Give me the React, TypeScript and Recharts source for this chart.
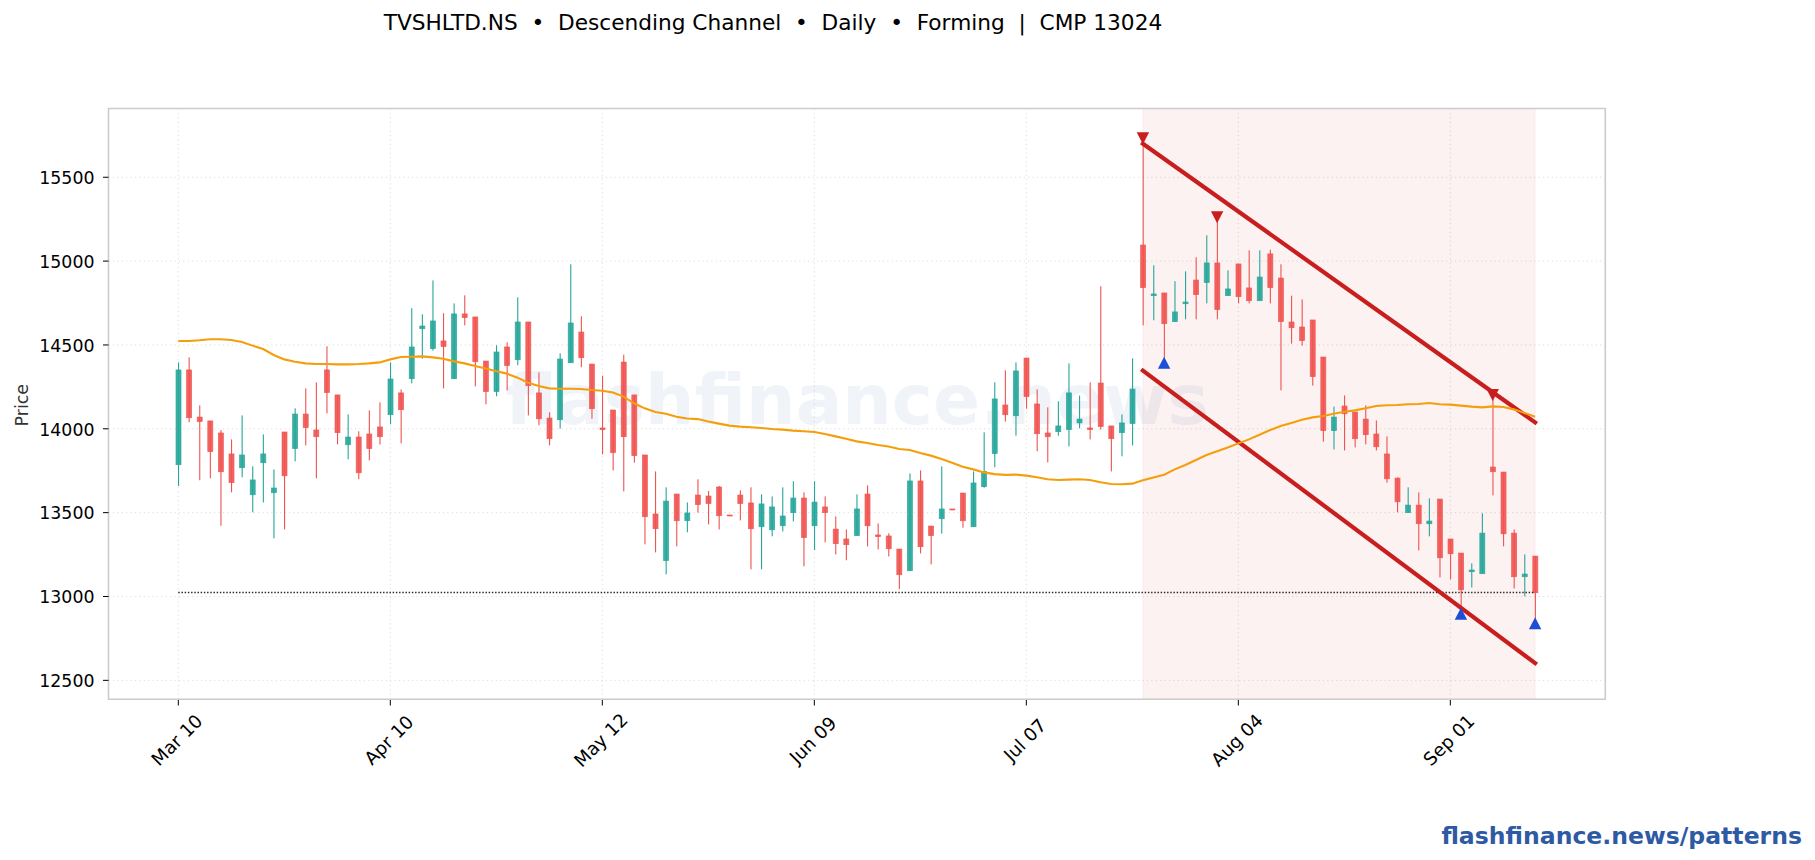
import React from "react";
import { ComposedChart, Bar, Line, XAxis, YAxis, CartesianGrid, ReferenceArea, ReferenceLine } from "recharts";

const opens = [13786,14351,14070,14047,13975,13850,13768,13607,13798,13619,13981,13882,14088,13993,14351,14202,13905,13951,13969,14011,14084,14214,14299,14597,14478,14524,14299,14685,14667,14404,14222,14488,14412,14637,14214,14064,14054,14394,14577,14386,14005,14112,14398,14202,13844,13492,13214,13611,13452,13605,13599,13653,13486,13605,13558,13416,13398,13422,13500,13587,13422,13534,13402,13343,13363,13611,13367,13361,13283,13154,13689,13420,13464,13522,13617,13416,13655,13852,14142,14078,14422,14148,13975,13983,13995,14035,14005,14273,14017,13977,14031,15096,14794,14810,14639,14746,14887,14872,14989,14794,14983,14840,14764,15043,14899,14637,14607,14649,14428,13989,14136,14100,14058,13969,13850,13706,13500,13545,13434,13581,13343,13259,13148,13136,13772,13742,13378,13118,13241];
const closes = [14351,14066,14043,13864,13744,13679,13844,13695,13850,13647,13720,14088,14007,13953,14216,13977,13951,13738,13882,13953,14297,14114,14488,14613,14643,14490,14685,14663,14400,14222,14458,14377,14637,14257,14060,13941,14416,14631,14424,14120,13995,13858,13953,13840,13476,13404,13569,13452,13498,13548,13554,13482,13482,13554,13404,13552,13534,13480,13587,13351,13563,13500,13315,13309,13522,13422,13357,13285,13130,13689,13297,13363,13522,13518,13452,13677,13746,14178,14084,14345,14192,13971,13953,14017,14214,14058,13995,14013,13941,14035,14237,14842,14804,14627,14697,14756,14800,14989,14711,14834,14788,14764,14905,14842,14639,14603,14526,14311,13989,14070,14090,13941,13965,13893,13702,13565,13545,13434,13450,13231,13255,13040,13158,13378,13744,13374,13118,13134,13022];
const highs = [14396,14426,14140,14047,13993,13937,14080,13776,13967,13758,13981,14122,14241,14277,14492,14202,14086,13985,14110,14158,14396,14235,14719,14683,14885,14689,14748,14796,14667,14404,14498,14516,14784,14637,14337,14098,14450,14981,14671,14386,14317,14112,14442,14202,13844,13746,13651,13611,13561,13699,13629,13659,13486,13633,13651,13609,13597,13651,13687,13621,13687,13597,13478,13400,13609,13663,13436,13377,13283,13734,13752,13420,13776,13522,13617,13746,13979,14277,14349,14396,14422,14235,14128,14164,14390,14198,14277,14850,14017,14086,14420,15732,14975,14810,14880,14939,15023,15154,15261,14945,14983,15064,15064,15068,14981,14794,14772,14649,14428,14132,14199,14100,14140,14050,13955,13710,13651,13621,13585,13581,13343,13259,13198,13496,14201,13742,13400,13251,13241];
const lows = [13659,14039,13693,13705,13422,13621,13711,13502,13561,13347,13400,13806,13901,13705,14092,13907,13818,13699,13812,13907,14027,13913,14271,14418,14466,14241,14299,14617,14253,14146,14194,14229,14379,14080,14021,13901,14001,14394,14367,14060,13848,13752,13627,13798,13311,13263,13132,13299,13383,13500,13430,13400,13482,13454,13162,13162,13359,13388,13448,13180,13277,13323,13251,13216,13363,13299,13281,13239,13043,13154,13257,13192,13375,13518,13410,13416,13649,13770,14043,13959,14120,13866,13800,13959,13895,14003,13937,13995,13746,13836,13901,14617,14647,14394,14639,14653,14653,14748,14653,14794,14748,14748,14764,14748,14229,14508,14496,14257,13923,13877,13871,13889,13907,13871,13679,13502,13500,13275,13359,13114,13102,12897,13054,13136,13603,13299,13048,13001,12840];
const movingAverage = [14524,14524,14528,14534,14534,14530,14518,14496,14476,14440,14414,14400,14390,14386,14386,14384,14384,14386,14390,14396,14414,14428,14430,14432,14426,14418,14402,14390,14375,14359,14343,14329,14305,14275,14255,14241,14239,14239,14237,14231,14227,14217,14192,14152,14122,14100,14090,14072,14061,14058,14043,14031,14019,14013,14009,14005,13999,13995,13989,13985,13981,13969,13955,13941,13925,13915,13903,13895,13880,13874,13856,13840,13820,13798,13774,13758,13740,13730,13725,13727,13721,13711,13699,13695,13697,13699,13695,13681,13671,13669,13673,13693,13710,13726,13758,13784,13814,13844,13866,13889,13913,13937,13965,13993,14017,14035,14054,14068,14076,14090,14102,14110,14122,14136,14140,14142,14146,14148,14154,14146,14144,14138,14132,14128,14134,14130,14116,14094,14072];

const xTickIndex = [0, 20, 40, 60, 80, 100, 120];
const xTickLabels = ["Mar 10", "Apr 10", "May 12", "Jun 09", "Jul 07", "Aug 04", "Sep 01"];
const yTicks = [12500, 13000, 13500, 14000, 14500, 15000, 15500];
const channelUpper = [{ i: 91, price: 15700 }, { i: 128, price: 14038 }];
const channelLower = [{ i: 91, price: 14347 }, { i: 128, price: 12603 }];
const peaks = [{ i: 91, price: 15732 }, { i: 98, price: 15261 }, { i: 124, price: 14201 }];
const troughs = [{ i: 93, price: 14394 }, { i: 121, price: 12897 }, { i: 128, price: 12840 }];
const cmp = 13024;

const UP = "#26A69A";
const DOWN = "#EF5350";
const CHANNEL = "#C81E1E";
const BLUE = "#1D4ED8";
const FONT = "'DejaVu Sans', sans-serif";
const X_DOMAIN: [number, number] = [-6.585, 134.62];
const Y_DOMAIN: [number, number] = [12387, 15910];

const rows = opens.map((o, i) => ({ i, o, c: closes[i], h: highs[i], l: lows[i], ma: movingAverage[i] }));

const colorOf = (p: any) => (p.c >= p.o ? UP : DOWN);

const Wick = (p: any) => <rect x={p.x} y={p.y} width={p.width} height={p.height} fill={colorOf(p.payload)} />;
const Body = (p: any) => (
  <rect x={p.x} y={p.y} width={p.width} height={Math.max(p.height, 1)} fill={colorOf(p.payload)} stroke={colorOf(p.payload)} strokeWidth={0.7} fillOpacity={0.9} strokeOpacity={0.9} />
);
const DownTri = (p: any) => <path key={p.index} d={`M${p.cx - 6.2} ${p.cy - 6}H${p.cx + 6.2}L${p.cx} ${p.cy + 6}Z`} fill={CHANNEL} />;
const UpTri = (p: any) => <path key={p.index} d={`M${p.cx - 6.2} ${p.cy + 6}H${p.cx + 6.2}L${p.cx} ${p.cy - 6}Z`} fill={BLUE} />;

const XTick = (p: any) => {
  const label = xTickLabels[xTickIndex.indexOf(p.payload.value)];
  const cx = p.x - 1.5;
  const cy = 740;
  return (
    <g>
      <line x1={p.x} x2={p.x} y1={700} y2={705.5} stroke="#000" strokeWidth={1} />
      <text x={cx} y={cy} textAnchor="middle" dominantBaseline="central" transform={`rotate(-45 ${cx} ${cy})`} fontFamily={FONT} fontSize={18.2} fill="#000">
        {label}
      </text>
    </g>
  );
};

const YTick = (p: any) => (
  <g>
    <line x1={103} x2={108.5} y1={p.y} y2={p.y} stroke="#000" strokeWidth={1} />
    <text x={94.5} y={p.y + 0.8} textAnchor="end" dominantBaseline="central" fontFamily={FONT} fontSize={17.36} fill="#000">
      {p.payload.value}
    </text>
  </g>
);

export default function App() {
  return (
    <div style={{ position: "absolute", left: 0, top: 0, width: 1815, height: 860, background: "#fff" }}>
      <ComposedChart width={1815} height={860} data={rows} margin={{ top: 108.5, left: 0, right: 209.7, bottom: 100.7 }} barGap={0}>
        <text x={773} y={30} textAnchor="middle" fontFamily={FONT} fontSize={21.67} fill="#000" xmlSpace="preserve">
          TVSHLTD.NS  •  Descending Channel  •  Daily  •  Forming  |  CMP 13024
        </text>
        <text x={857} y={423.5} textAnchor="middle" fontFamily={FONT} fontWeight="bold" fontSize={69.5} fill="#2B579F" fillOpacity={0.07}>
          flashfinance.news
        </text>
        <text x={1802} y={844} textAnchor="end" fontFamily={FONT} fontWeight="bold" fontSize={23.56} fill="#2E5AA3">
          flashfinance.news/patterns
        </text>
        <text x={21.7} y={405.2} textAnchor="middle" dominantBaseline="central" transform="rotate(-90 21.7 405.2)" fontFamily={FONT} fontSize={17.36} fill="#333">
          Price
        </text>
        <CartesianGrid stroke="#dcdcdc" strokeDasharray="1.2 3.2" strokeWidth={1} xAxisId="main" yAxisId="main" />
        <XAxis xAxisId="main" dataKey="i" type="number" domain={X_DOMAIN} ticks={xTickIndex} tick={<XTick />} interval={0} height={60} tickLine={false} axisLine={false} allowDataOverflow />
        <XAxis xAxisId="bodies" dataKey="i" type="number" domain={X_DOMAIN} hide allowDataOverflow />
        <YAxis yAxisId="main" type="number" domain={Y_DOMAIN} ticks={yTicks} width={108.5} interval={0} tick={<YTick />} tickLine={false} axisLine={false} allowDataOverflow />
        <ReferenceArea xAxisId="main" yAxisId="main" x1={91} x2={128} y1={Y_DOMAIN[0]} y2={Y_DOMAIN[1]} fill={CHANNEL} fillOpacity={0.06} stroke={CHANNEL} strokeOpacity={0.05} strokeWidth={1} ifOverflow="extendDomain" />
        <Bar xAxisId="main" yAxisId="main" dataKey={(d: any) => [d.l, d.h]} barSize={1.1} shape={<Wick />} isAnimationActive={false} />
        <Bar xAxisId="bodies" yAxisId="main" dataKey={(d: any) => [Math.min(d.o, d.c), Math.max(d.o, d.c)]} barSize={5} shape={<Body />} isAnimationActive={false} />
        <Line xAxisId="main" yAxisId="main" data={peaks} dataKey="price" stroke="none" dot={<DownTri />} activeDot={false} isAnimationActive={false} legendType="none" />
        <Line xAxisId="main" yAxisId="main" data={troughs} dataKey="price" stroke="none" dot={<UpTri />} activeDot={false} isAnimationActive={false} legendType="none" />
        <ReferenceLine xAxisId="main" yAxisId="main" segment={[{ x: 0, y: cmp }, { x: 128, y: cmp }]} stroke="#222" strokeDasharray="1.4 1.8" strokeWidth={1.3} />
        <Line xAxisId="main" yAxisId="main" data={channelUpper} dataKey="price" stroke={CHANNEL} strokeWidth={4.2} strokeLinecap="square" dot={false} activeDot={false} type="linear" isAnimationActive={false} />
        <Line xAxisId="main" yAxisId="main" data={channelLower} dataKey="price" stroke={CHANNEL} strokeWidth={4.2} strokeLinecap="square" dot={false} activeDot={false} type="linear" isAnimationActive={false} />
        <Line xAxisId="main" yAxisId="main" dataKey="ma" stroke="#F59E0B" strokeWidth={2.1} dot={false} activeDot={false} type="linear" isAnimationActive={false} />
        <ReferenceArea xAxisId="main" yAxisId="main" x1={X_DOMAIN[0]} x2={X_DOMAIN[1]} y1={Y_DOMAIN[0]} y2={Y_DOMAIN[1]} fill="none" stroke="#cccccc" strokeWidth={1.6} />
      </ComposedChart>
    </div>
  );
}
